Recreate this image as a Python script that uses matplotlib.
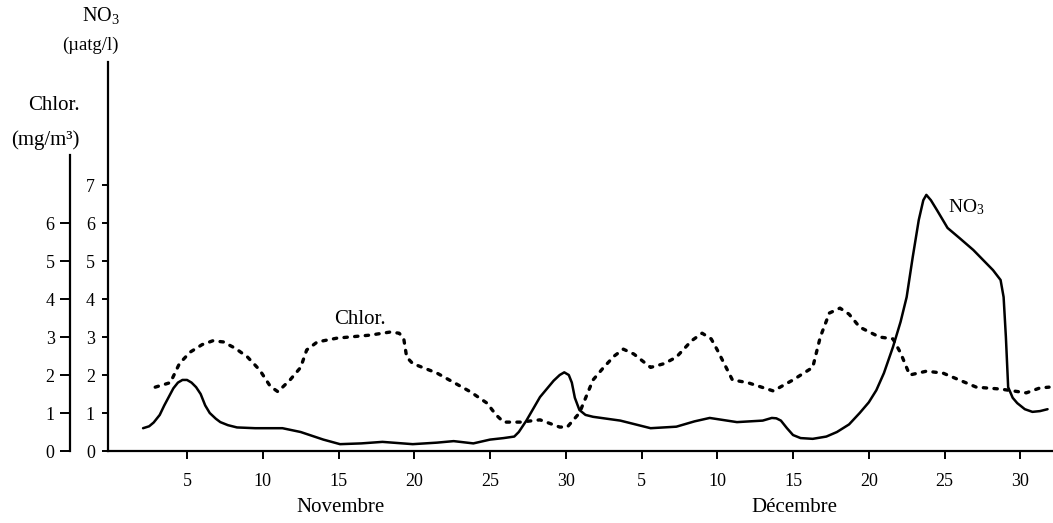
import matplotlib
matplotlib.use("Agg")
import matplotlib.pyplot as plt

plt.rcParams['font.family'] = ['Liberation Serif', 'DejaVu Serif']
plt.rcParams['mathtext.fontset'] = 'custom'
plt.rcParams['mathtext.rm'] = 'Liberation Serif'
plt.rcParams['mathtext.it'] = 'Liberation Serif:italic'

# ---- data (day index: Nov d -> d, Dec d -> 30 + d) ----
no3_days = [2.1, 2.5, 2.8, 3.2, 3.5, 4.1, 4.4, 4.7, 5.0, 5.3, 5.6, 5.9, 6.2, 6.5, 6.9,
            7.2, 7.7, 8.3, 9.5, 11.3, 12.5, 14.0, 15.1, 16.5, 17.9, 19.9, 21.5, 22.6,
            23.9, 25.0, 25.9, 26.6, 26.9, 27.4, 28.3, 29.2, 29.6, 29.9, 30.2, 30.4,
            30.6, 30.9, 31.3, 31.8, 33.6, 35.6, 37.3, 38.5, 39.5, 41.3, 43.0, 43.6,
            43.9, 44.2, 44.6, 45.0, 45.5, 46.3, 47.2, 47.9, 48.7, 49.4, 50.0, 50.5,
            51.0, 51.6, 52.1, 52.5, 52.9, 53.3, 53.6, 53.8, 54.1, 54.5, 55.2, 56.0,
            56.9, 58.2, 58.7, 58.9, 59.05, 59.2, 59.5, 59.8, 60.3, 60.8, 61.3, 61.8]
no3_vals = [0.6, 0.65, 0.75, 0.95, 1.2, 1.65, 1.8, 1.87, 1.87, 1.8, 1.68, 1.5, 1.2, 1.0, 0.85,
            0.76, 0.68, 0.62, 0.6, 0.6, 0.5, 0.3, 0.18, 0.2, 0.24, 0.18, 0.22, 0.26,
            0.2, 0.3, 0.34, 0.38, 0.5, 0.8, 1.42, 1.85, 2.0, 2.07, 2.0, 1.8,
            1.4, 1.08, 0.95, 0.9, 0.8, 0.6, 0.64, 0.78, 0.87, 0.76, 0.8, 0.87,
            0.86, 0.8, 0.6, 0.42, 0.34, 0.32, 0.38, 0.5, 0.7, 1.0, 1.28, 1.6,
            2.05, 2.74, 3.4, 4.05, 5.1, 6.08, 6.6, 6.74, 6.6, 6.34, 5.87, 5.6,
            5.29, 4.76, 4.5, 4.05, 3.0, 1.68, 1.4, 1.26, 1.1, 1.03, 1.05, 1.1]

chl_days = [2.9, 3.9, 4.5, 5.2, 6.0, 6.7, 7.4, 8.2, 9.0, 9.8, 10.5, 11.0, 11.8, 12.5,
            12.9, 13.6, 14.9, 17.1, 18.4, 19.0, 19.3, 19.5, 19.9, 21.5, 23.7, 24.8,
            25.4, 25.9, 27.0, 28.3, 29.6, 30.1, 30.9, 31.8, 32.5, 33.2, 33.8, 34.5,
            35.6, 36.5, 37.3, 38.3, 39.0, 39.6, 40.0, 41.0, 42.0, 43.7, 45.0, 46.3,
            46.8, 47.4, 48.1, 48.7, 49.4, 50.7, 51.6, 52.1, 52.7, 53.8, 54.9, 57.1,
            58.7, 60.4, 61.3, 61.9]
chl_vals = [1.68, 1.8, 2.3, 2.6, 2.8, 2.9, 2.87, 2.7, 2.47, 2.13, 1.7, 1.56, 1.87, 2.2,
            2.66, 2.87, 2.97, 3.05, 3.13, 3.1, 2.97, 2.47, 2.3, 2.05, 1.56, 1.26,
            0.95, 0.76, 0.76, 0.82, 0.63, 0.63, 1.0, 1.87, 2.2, 2.5, 2.68, 2.55,
            2.2, 2.3, 2.47, 2.9, 3.1, 2.95, 2.66, 1.87, 1.8, 1.58, 1.87, 2.2,
            3.0, 3.63, 3.76, 3.6, 3.26, 3.0, 2.95, 2.58, 2.0, 2.1, 2.05, 1.68,
            1.63, 1.53, 1.66, 1.68]

x_ticks = [5, 10, 15, 20, 25, 30, 35, 40, 45, 50, 55, 60]
x_labels = ["5", "10", "15", "20", "25", "30", "5", "10", "15", "20", "25", "30"]
no3_ticks = [0, 1, 2, 3, 4, 5, 6, 7]
chl_ticks = [0, 1, 2, 3, 4, 5, 6]
months = ["Novembre", "Décembre"]
month_pos = [15.1, 45.1]

W, H = 1053, 523
fig = plt.figure(figsize=(W / 100, H / 100), dpi=100)

ymax = 389 / 38.0
ax = fig.add_axes([108 / W, 72 / H, 945 / W, 389 / H])
ax.set_xlim(-0.215, 62.16)
ax.set_ylim(0, ymax)
for s in ['top', 'right']:
    ax.spines[s].set_visible(False)
for s in ['left', 'bottom']:
    ax.spines[s].set_linewidth(1.6)
ax.set_xticks(x_ticks)
ax.set_xticklabels(x_labels, fontsize=13)
ax.set_yticks(no3_ticks)
ax.set_yticklabels([str(t) for t in no3_ticks], fontsize=13)
ax.tick_params(axis='x', direction='out', length=6, width=1.4, pad=10)
ax.tick_params(axis='y', direction='out', length=4.5, width=1.4, pad=5)

ax.plot(no3_days, no3_vals, color='black', lw=1.8, solid_capstyle='round',
        solid_joinstyle='round')
ax.plot(chl_days, chl_vals, color='black', lw=2.4, linestyle=(0, (1.0, 2.2)),
        dash_capstyle='round')

ax.text(360 / 15.15 - 108 / 15.15 - 0.215, 3.45, "Chlor.", fontsize=15,
        ha='center', va='center')
ax.text(5 + (966 - 187) / 15.15, (451 - 207) / 38, "NO$_3$", fontsize=14,
        ha='center', va='center')

for m, p in zip(months, month_pos):
    ax.text(p, -(507 - 451) / 38, m, fontsize=15, ha='center', va='center')

# Chlorophyll axis (separate spine further left)
ax2 = fig.add_axes([70 / W, 72 / H, 0.0001, 389 / H])
ax2.set_ylim(0, ymax)
ax2.patch.set_visible(False)
for s in ['top', 'right', 'bottom']:
    ax2.spines[s].set_visible(False)
ax2.spines['left'].set_linewidth(1.6)
ax2.spines['left'].set_bounds(0, (451 - 155) / 38)
ax2.set_xticks([])
ax2.set_yticks(chl_ticks)
ax2.set_yticklabels([str(t) for t in chl_ticks], fontsize=13)
ax2.tick_params(axis='y', direction='out', length=7, width=1.4, pad=4)

fig.text(101 / W, 1 - 15 / H, "NO$_3$", fontsize=14.5, ha='center', va='center')
fig.text(90 / W, 1 - 45 / H, "(µatg/l)", fontsize=13.5, ha='center', va='center')
fig.text(54 / W, 1 - 105 / H, "Chlor.", fontsize=15, ha='center', va='center')
fig.text(45 / W, 1 - 140 / H, "(mg/m³)", fontsize=15, ha='center', va='center')

fig.savefig("out.png", dpi=100)
